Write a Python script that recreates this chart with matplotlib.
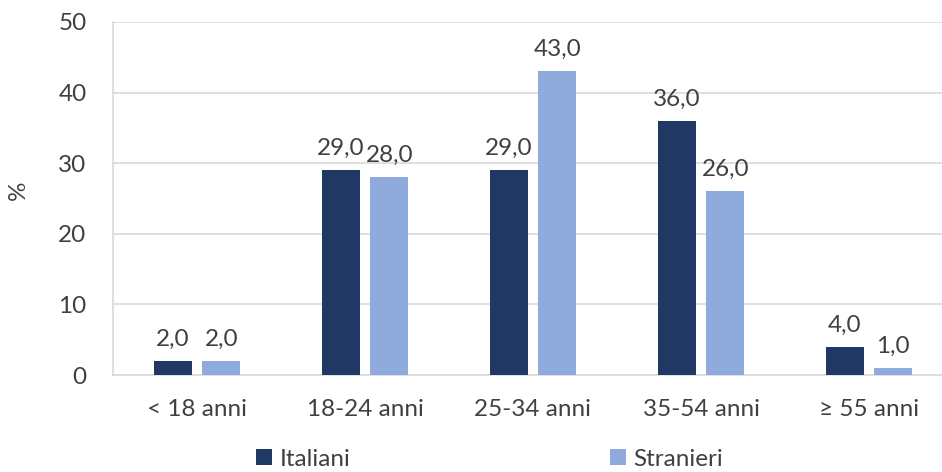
import numpy as np
import matplotlib.pyplot as plt

categorie = ['< 18 anni', '18-24 anni', '25-34 anni', '35-54 anni', '≥ 55 anni']
italiani = [2.0, 29.0, 29.0, 36.0, 4.0]
stranieri = [2.0, 28.0, 43.0, 26.0, 1.0]

plt.rcParams['font.family'] = ['Lato', 'DejaVu Sans']
testo = '#404040'

fig = plt.figure(figsize=(9.42, 4.72), dpi=100)
ax = fig.add_axes([113 / 942, 97 / 472, 840 / 942, 353 / 472])

x = np.arange(len(categorie))
w = 0.226
b1 = ax.bar(x - 0.144, italiani, w, color='#203864', label='Italiani', zorder=3)
b2 = ax.bar(x + 0.144, stranieri, w, color='#8FAADC', label='Stranieri', zorder=3)

for bars in (b1, b2):
    for r in bars:
        v = r.get_height()
        ax.annotate(f'{v:.1f}'.replace('.', ','), (r.get_x() + r.get_width() / 2, v),
                    xytext=(0, 8), textcoords='offset points', ha='center', va='bottom',
                    fontsize=17.5, color=testo)

ax.set_xlim(-0.5, 4.5)
ax.set_ylim(0, 50)
ax.set_yticks(range(0, 51, 10))
ax.set_xticks(x)
ax.set_xticklabels(categorie)
ax.tick_params(axis='both', length=0, labelsize=17.5, labelcolor=testo)
ax.tick_params(axis='x', pad=17)
ax.tick_params(axis='y', pad=19)
ax.grid(axis='y', color='#D9D9D9', linewidth=1.2, zorder=0)
for s in ['top', 'right']:
    ax.spines[s].set_visible(False)
for s in ['left', 'bottom']:
    ax.spines[s].set_color('#D9D9D9')
    ax.spines[s].set_linewidth(1.2)

fig.text(18 / 942, 1 - 190 / 472, '%', rotation=90, ha='center', va='center',
         fontsize=17.5, color=testo)

fig.legend(loc='center left', bbox_to_anchor=(254 / 942, 13 / 472), ncol=2,
           frameon=False, fontsize=17.5, labelcolor=testo, handlelength=0.65,
           handleheight=0.65, handletextpad=0.3, columnspacing=10.7,
           borderaxespad=0, borderpad=0.1)

fig.savefig('out.png', dpi=100)
